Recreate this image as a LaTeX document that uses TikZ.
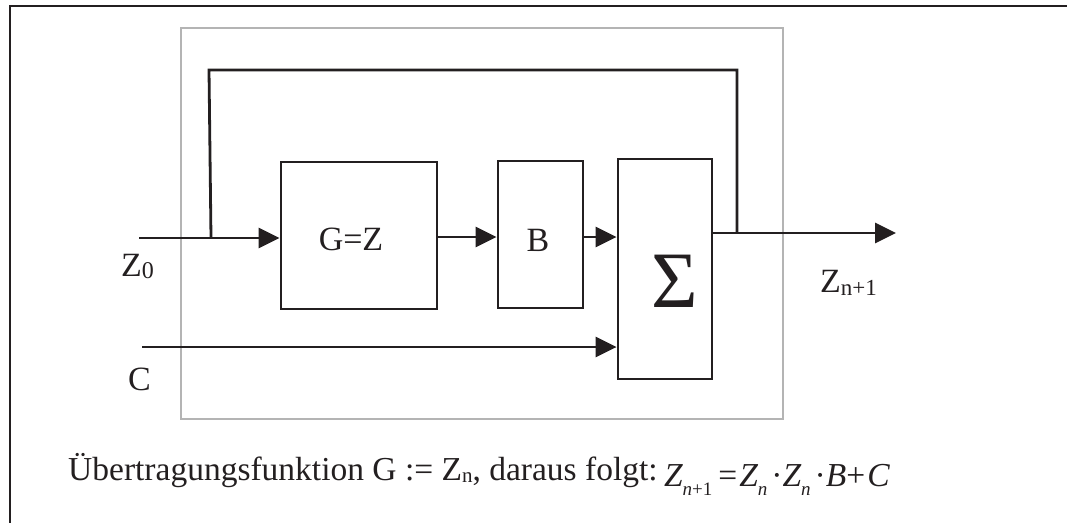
\documentclass[tikz,border=0pt]{standalone}
\usepackage{fontspec}
\setmainfont{Liberation Serif}
\usetikzlibrary{arrows.meta}
\definecolor{ink}{HTML}{231F20}
\definecolor{framegray}{HTML}{B4B4B4}
\newcommand{\lowsub}[3]{\raisebox{#1}{\fontsize{#2}{#2}\selectfont #3}}
\begin{document}
\begin{tikzpicture}[x=1pt,y=-1pt,
  blk/.style={draw=ink, line width=2.8pt, inner sep=0pt, minimum width=#1},
  lbl/.style={inner sep=0pt, text=ink, font=\fontsize{34}{40}\selectfont},
  txt/.style={inner sep=0pt, text=ink, font=\fontsize{33.5}{40}\selectfont},
  wire/.style={draw=ink, line width=2.8pt},
  arr/.style={draw=ink, line width=2.8pt, -{Triangle[length=21pt,width=20pt]}}
]
\useasboundingbox (0,0) rectangle (1067,522);
\begin{scope}
\clip (0,0) rectangle (1067,522);
\draw[ink, line width=2.4pt] (10,6) rectangle (1100,560);
\end{scope}
% gray system border
\draw[framegray, line width=2pt] (181,28) rectangle (783,419);
% blocks
\node[blk=156pt, minimum height=147pt] (G) at (359,235.5) {};
\node[blk=85pt,  minimum height=147pt] (B) at (540.5,234.5) {};
\node[blk=94pt,  minimum height=220pt] (S) at (665,269) {};
% block labels
\node[lbl] (Gl) at (351,239.5) {G=Z};
\node[lbl] (Bl) at (538,240.5) {B};
\node[inner sep=0pt, text=ink, font=\fontsize{80}{82}\selectfont] (Sl) at (675,281) {Σ};
% coordinates
\coordinate (z0in) at (139,238);
\coordinate (tap) at (211,238);
\coordinate (fbA) at (209,70);
\coordinate (fbB) at (737,70);
\coordinate (fbC) at (737,233);
\coordinate (yl) at (0,237);
\coordinate (out) at (896,233);
\coordinate (cin) at (142,347);
% connectors
\draw[arr] (z0in) -- (z0in -| G.west);
\draw[wire, line join=miter] (tap) -- (fbA) -- (fbB) -- (fbC);
\draw[arr] (G.east |- yl) -- (B.west |- yl);
\draw[arr] (B.east |- yl) -- (S.west |- yl);
\draw[arr] (S.east |- out) -- (out);
\draw[arr] (cin) -- (cin -| S.west);
% signal labels
\node[lbl, anchor=base west] (Z0) at (121,276) {Z\lowsub{-2pt}{24}{0}};
\node[lbl, anchor=base west] (Cl) at (128,390) {C};
\node[lbl, anchor=base west] (Zn1) at (820,292) {Z\lowsub{-3pt}{23}{n+1}};
% bottom text
\node[txt, anchor=base west] (note) at (68,480) {Übertragungsfunktion G := Z\lowsub{-2pt}{21}{n}, daraus folgt:};
\node[txt, anchor=base west, xshift=6pt, yshift=-6pt] (eq) at (note.base east) {\itshape Z\lowsub{-9pt}{19}{n\upshape +1}\hspace{6pt}\upshape =\hspace{2pt}\itshape Z\lowsub{-9pt}{19}{n}\hspace{4pt}\upshape ·\itshape Z\lowsub{-9pt}{19}{n}\hspace{4pt}\upshape ·\itshape B\upshape +\hspace{2pt}\itshape C};
\end{tikzpicture}
\end{document}
